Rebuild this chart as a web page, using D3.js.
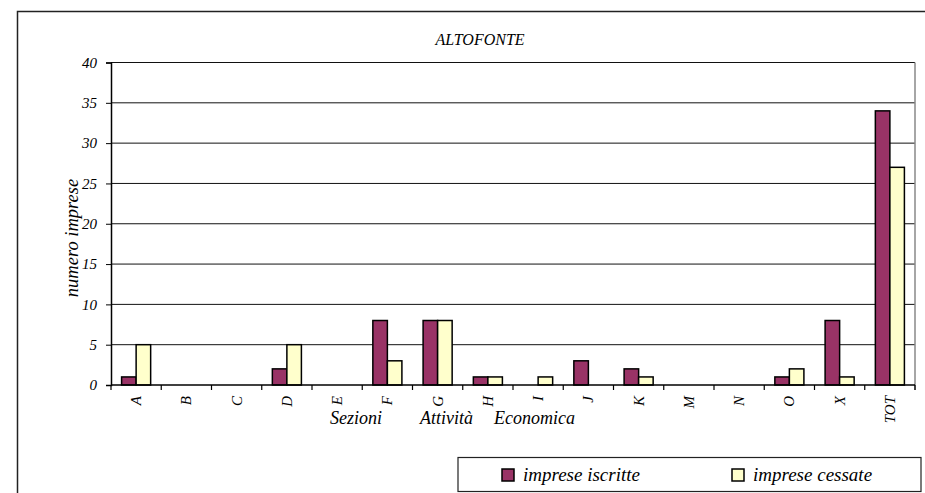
<!DOCTYPE html>
<html><head><meta charset="utf-8">
<script src="https://cdn.jsdelivr.net/npm/d3@7"></script>
<style>
html,body{margin:0;padding:0;background:#fff;overflow:hidden;}
</style></head>
<body>
<svg id="chart" width="925" height="493"></svg>
<script>
const categories = ["A","B","C","D","E","F","G","H","I","J","K","M","N","O","X","TOT"];
const iscritte = [1,0,0,2,0,8,8,1,0,3,2,0,0,1,8,34];
const cessate  = [5,0,0,5,0,3,8,1,1,0,1,0,0,2,1,27];
const seriesNames = ["imprese iscritte","imprese cessate"];
const seriesColors = ["#993366","#FFFFCC"];
const yTicks = [0,5,10,15,20,25,30,35,40];
const chartTitle = "ALTOFONTE";
const xTitleWords = ["Sezioni","Attività","Economica"];
const yTitle = "numero imprese";

const FONT = "Liberation Serif";
const svg = d3.select("#chart");
const L = 111, R = 915, T = 62.5, B = 385;

function txt(sel, size){
  return sel.attr("font-family",FONT).attr("font-style","italic").attr("font-size",size).attr("fill","#000");
}

svg.append("rect").attr("x",17.5).attr("y",11.5).attr("width",1000).attr("height",1000)
  .attr("fill","none").attr("stroke","#222").attr("stroke-width",1.5);

const x = d3.scaleBand().domain(categories).range([L,R]).paddingInner(0).paddingOuter(0);
const y = d3.scaleLinear().domain([0,40]).range([B,T]);
const inner = d3.scaleBand().domain([0,1]).range([10.6, x.bandwidth()-10.6]);

svg.append("g").selectAll("line").data(yTicks.filter(d=>d>0)).join("line")
  .attr("x1",L).attr("x2",R).attr("y1",d=>y(d)).attr("y2",d=>y(d))
  .attr("stroke","#111").attr("stroke-width",1);
svg.append("line").attr("x1",R).attr("x2",R).attr("y1",T).attr("y2",B+5)
  .attr("stroke","#888").attr("stroke-width",1.5);

const data = categories.map((c,i)=>({c, v:[iscritte[i],cessate[i]]}));
const g = svg.append("g").selectAll("g").data(data).join("g")
  .attr("transform",d=>`translate(${x(d.c)},0)`);
g.selectAll("rect").data(d=>d.v.map((v,k)=>({v,k}))).join("rect")
  .filter(d=>d.v>0)
  .attr("x",d=>inner(d.k)).attr("width",inner.bandwidth())
  .attr("y",d=>y(d.v)).attr("height",d=>y(0)-y(d.v))
  .attr("fill",d=>seriesColors[d.k]).attr("stroke","#000").attr("stroke-width",1.5);

const ya = svg.append("g").attr("transform",`translate(${L},0)`)
  .call(d3.axisLeft(y).tickValues(yTicks).tickSize(5).tickPadding(9));
ya.select(".domain").attr("stroke","#000").attr("stroke-width",1.5);
ya.selectAll(".tick line").attr("stroke","#000");
txt(ya.selectAll("text"),15);

const xa = svg.append("g").attr("transform",`translate(0,${B})`);
xa.append("line").attr("x1",L).attr("x2",R).attr("stroke","#000").attr("stroke-width",1.5);
const bounds = d3.range(categories.length+1).map(i=>L + i*x.step());
xa.selectAll(".tk").data(bounds).join("line").attr("class","tk")
  .attr("x1",d=>d).attr("x2",d=>d).attr("y1",0).attr("y2",5).attr("stroke","#000").attr("stroke-width",1.2);
txt(xa.selectAll(".lb").data(categories).join("text").attr("class","lb")
  .attr("transform",d=>`translate(${x(d)+x.bandwidth()/2+5},11) rotate(-90)`)
  .attr("text-anchor","end"),15).text(d=>d);

txt(svg.append("text").attr("x",480).attr("y",44.5).attr("text-anchor","middle"),16).text(chartTitle);
const xTitleX = [330,420,494];
xTitleWords.forEach((w,i)=>{
  txt(svg.append("text").attr("x",xTitleX[i]).attr("y",424),18).text(w);
});
txt(svg.append("text").attr("transform","translate(78,238) rotate(-90)")
  .attr("text-anchor","middle"),18.5).text(yTitle);

svg.append("rect").attr("x",458).attr("y",457.5).attr("width",463).attr("height",34)
  .attr("fill","#fff").attr("stroke","#222").attr("stroke-width",1.2);
const legX = [502,732];
seriesNames.forEach((n,k)=>{
  svg.append("rect").attr("x",legX[k]).attr("y",469).attr("width",12).attr("height",12)
    .attr("fill",seriesColors[k]).attr("stroke","#000").attr("stroke-width",1.5);
  txt(svg.append("text").attr("x",legX[k]+21).attr("y",481),19).text(n);
});
</script>
</body></html>
